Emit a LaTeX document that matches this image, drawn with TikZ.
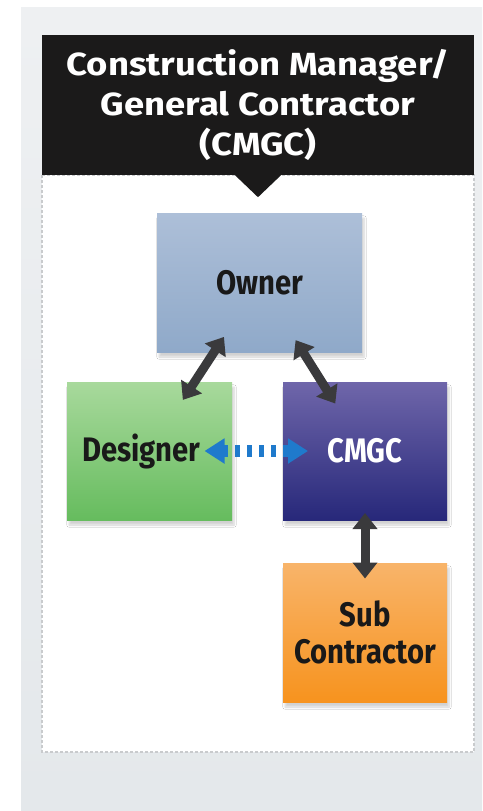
\documentclass[tikz,border=0pt]{standalone}
\usepackage{fontspec}
\setmainfont{Fira Sans}
\newfontfamily\narrowfont[FakeStretch=0.86]{Fira Sans}
\newfontfamily\widefont[FakeStretch=1.14]{Fira Sans}
\usetikzlibrary{arrows.meta,shadows.blur}

\definecolor{paneGray}{HTML}{E4E8EB}
\definecolor{paneLight}{HTML}{EEF0F2}
\definecolor{bannerBlack}{HTML}{1B1A1A}
\definecolor{borderGray}{HTML}{C9CBCD}
\definecolor{linkGray}{HTML}{3A3A3C}
\definecolor{linkBlue}{HTML}{1F7ACC}
\definecolor{ownerTop}{HTML}{ADBFD8}
\definecolor{ownerBot}{HTML}{8FA9C9}
\definecolor{designTop}{HTML}{A8D99C}
\definecolor{designBot}{HTML}{66BC5E}
\definecolor{cmgcTop}{HTML}{6F66AA}
\definecolor{cmgcBot}{HTML}{27287A}
\definecolor{subTop}{HTML}{F8B46A}
\definecolor{subBot}{HTML}{F7931E}

\begin{document}
\begin{tikzpicture}[x=1pt,y=-1pt,
  box/.style={minimum width=164pt, minimum height=138pt, inner sep=0pt,
    align=center, text=black!90,
    font=\narrowfont\bfseries\fontsize{34}{37}\selectfont,
    blur shadow={shadow xshift=2pt, shadow yshift=-5pt, shadow blur steps=8, shadow opacity=18}},
  link/.style={draw=linkGray, line width=9pt,
    {Triangle[length=16pt,width=24pt]}-{Triangle[length=16pt,width=24pt]}},
  dotlink/.style={draw=linkBlue, line width=12pt, dash pattern=on 5pt off 7pt,
    {Triangle[length=20pt,width=24pt]}-{Triangle[length=20pt,width=24pt]}}]

  % Fix the page to the size of the reference
  \useasboundingbox (0,0) rectangle (482,811);

  % Grey panel and the white inner area with its dashed border
  \shade[top color=paneLight, bottom color=paneGray] (21,7) rectangle (482,811);
  \draw[fill=white, draw=borderGray, line width=1.3pt, dash pattern=on 3pt off 2pt]
    (42,175) rectangle (474,752);

  % Black title banner with its pointer
  \node (banner) [fill=bannerBlack, text=white, minimum width=432pt, minimum height=140pt,
    inner sep=0pt, align=center, font=\widefont\bfseries\fontsize{32}{40}\selectfont]
    at (258,105) {Construction Manager/\\General Contractor\\(CMGC)};
  \fill[bannerBlack] ([xshift=-23pt]banner.south) -- ([xshift=23pt]banner.south)
    -- ([yshift=-22pt]banner.south) -- cycle;

  % The four parties
  \node (owner) [box, minimum width=205pt, minimum height=139pt,
    top color=ownerTop, bottom color=ownerBot] at (259.5,282.5) {Owner};
  \node (designer) [box, minimum width=165pt, top color=designTop, bottom color=designBot]
    at (149.5,451) {Designer\hspace*{16pt}};
  \node (cmgc) [box, top color=cmgcTop, bottom color=cmgcBot, text=white]
    at (365,451) {CMGC};
  \node (sub) [box, minimum height=139pt, top color=subTop, bottom color=subBot]
    at (365,632.5) {Sub\\Contractor};

  % Connectors between the parties
  \draw[link, shorten <=65pt, shorten >=61pt] (owner.center) -- (designer.center);
  \draw[link, shorten <=68pt, shorten >=56pt] (owner.center) -- (cmgc.center);
  \draw[link, shorten <=62pt, shorten >=54pt] (cmgc.center) -- (sub.center);
  \draw[dotlink, shorten <=55pt, shorten >=57pt] (designer.center) -- (cmgc.center);

\end{tikzpicture}
\end{document}
